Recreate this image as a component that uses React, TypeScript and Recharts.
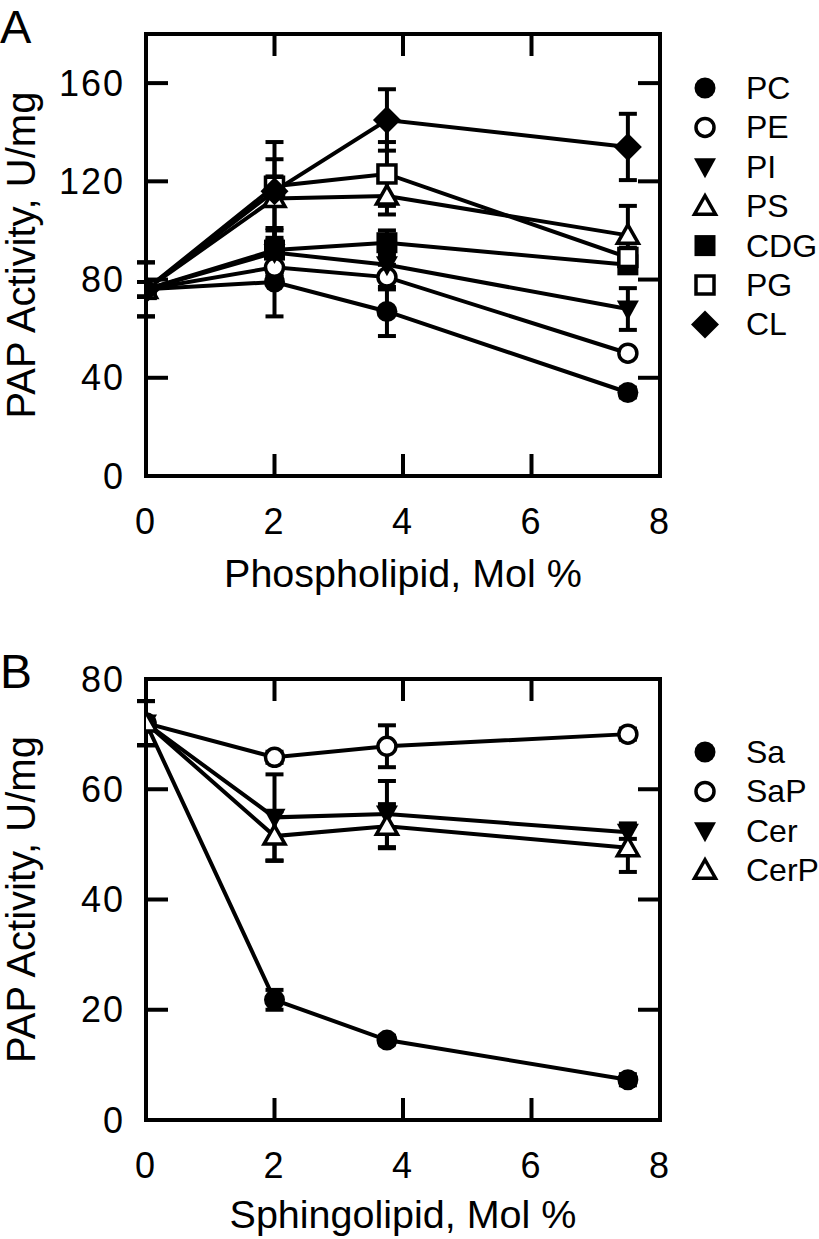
import React from 'react';
import { LineChart, Line, XAxis, YAxis, ErrorBar, Legend } from 'recharts';

const FONT = '"Liberation Sans", Arial, Helvetica, sans-serif';

// lipid content (mol %) shared by both panels
const molPercent = [0, 2, 3.75, 7.5];

// panel A: phospholipids (U/mg) and their SD
const pcActivity = [76, 79, 67, 34];
const pcError = [11, 14, 10, 2];
const peActivity = [76, 85, 81, 50];
const peError = [3, 4, 5, 1.5];
const piActivity = [76, 91, 86, 68];
const piError = [3, 9, 6, 8.5];
const psActivity = [76, 113, 114, 98];
const psError = [3, 16, 7.5, 12];
const cdgActivity = [76, 92, 95, 86];
const cdgError = [3, 9, 5, 3];
const pgActivity = [76, 118, 123, 89];
const pgError = [3, 4, 13, 4];
const clActivity = [76, 116, 145, 134];
const clError = [11, 20, 12.5, 13.5];

// panel B: sphingolipids
const saActivity = [72, 21.8, 14.5, 7.3];
const saError = [4, 1.8, 0.8, 1];
const sapActivity = [72, 65.8, 67.8, 70];
const sapError = [4, 1, 3.8, 1];
const cerActivity = [72, 54.9, 55.5, 52.2];
const cerError = [4, 7.8, 6, 1.2];
const cerpActivity = [72, 51.5, 53.3, 49.4];
const cerpError = [4, 4.5, 4, 4.4];

const xTicks = [0, 2, 4, 6, 8];
const innerXTicks = [2, 4, 6];
const phosphoTicks = [0, 40, 80, 120, 160];
const phosphoRightTicks = [40, 80, 120, 160];
const sphingoTicks = [0, 20, 40, 60, 80];
const sphingoRightTicks = [20, 40, 60];

type MarkerKind = 'circle' | 'circleOpen' | 'triDown' | 'triUpOpen' | 'square' | 'squareOpen' | 'diamond';

interface SeriesDef {
  name: string;
  kind: MarkerKind;
  values: number[];
  errors: number[];
}

const phosphoSeries: SeriesDef[] = [
  { name: 'PC', kind: 'circle', values: pcActivity, errors: pcError },
  { name: 'PE', kind: 'circleOpen', values: peActivity, errors: peError },
  { name: 'PI', kind: 'triDown', values: piActivity, errors: piError },
  { name: 'PS', kind: 'triUpOpen', values: psActivity, errors: psError },
  { name: 'CDG', kind: 'square', values: cdgActivity, errors: cdgError },
  { name: 'PG', kind: 'squareOpen', values: pgActivity, errors: pgError },
  { name: 'CL', kind: 'diamond', values: clActivity, errors: clError },
];

const sphingoSeries: SeriesDef[] = [
  { name: 'Sa', kind: 'circle', values: saActivity, errors: saError },
  { name: 'SaP', kind: 'circleOpen', values: sapActivity, errors: sapError },
  { name: 'Cer', kind: 'triDown', values: cerActivity, errors: cerError },
  { name: 'CerP', kind: 'triUpOpen', values: cerpActivity, errors: cerpError },
];

const buildRows = (series: SeriesDef[]) =>
  molPercent.map((x, i) => {
    const row: Record<string, number> = { x };
    series.forEach((s) => {
      row[s.name] = s.values[i];
      row[s.name + '_err'] = s.errors[i];
    });
    return row;
  });

const SW = 4;

const Marker = ({ kind, cx, cy }: { kind: MarkerKind; cx: number; cy: number }) => {
  switch (kind) {
    case 'circle':
      return <circle cx={cx} cy={cy} r={10.5} fill="#000" />;
    case 'circleOpen':
      return <circle cx={cx} cy={cy} r={9} fill="#fff" stroke="#000" strokeWidth={3.5} />;
    case 'triDown':
      return <polygon points={`${cx - 11},${cy - 8.5} ${cx + 11},${cy - 8.5} ${cx},${cy + 11.5}`} fill="#000" />;
    case 'triUpOpen':
      return (
        <polygon
          points={`${cx - 10.5},${cy + 8} ${cx + 10.5},${cy + 8} ${cx},${cy - 10.5}`}
          fill="#fff"
          stroke="#000"
          strokeWidth={3.5}
        />
      );
    case 'square':
      return <rect x={cx - 10.5} y={cy - 10.5} width={21} height={21} fill="#000" />;
    case 'squareOpen':
      return <rect x={cx - 9} y={cy - 9} width={18} height={18} fill="#fff" stroke="#000" strokeWidth={3.5} />;
    case 'diamond':
      return <polygon points={`${cx},${cy - 14} ${cx + 14},${cy} ${cx},${cy + 14} ${cx - 14},${cy}`} fill="#000" />;
    default:
      return null;
  }
};

const TICK_LEN = 22;
const tickText = { fontSize: 36, fontFamily: FONT, fill: '#000', letterSpacing: 2 };

const BottomTick = (props: any) => {
  const { x, y, payload } = props;
  return (
    <g>
      <line x1={x} y1={y} x2={x} y2={y - TICK_LEN} stroke="#000" strokeWidth={SW} />
      <text x={x} y={y + 58} textAnchor="middle" {...tickText}>
        {payload.value}
      </text>
    </g>
  );
};

const LeftTick = (props: any) => {
  const { x, y, payload } = props;
  return (
    <g>
      <line x1={x} y1={y} x2={x + TICK_LEN} y2={y} stroke="#000" strokeWidth={SW} />
      <text x={x - 21} y={y} textAnchor="end" dominantBaseline="central" {...tickText}>
        {payload.value}
      </text>
    </g>
  );
};

const TopTick = (props: any) => {
  const { x, y } = props;
  return <line x1={x} y1={y} x2={x} y2={y + TICK_LEN} stroke="#000" strokeWidth={SW} />;
};

const RightTick = (props: any) => {
  const { x, y } = props;
  return <line x1={x} y1={y} x2={x - TICK_LEN} y2={y} stroke="#000" strokeWidth={SW} />;
};

const LegendBox = ({ series }: { series: SeriesDef[] }) => (
  <svg width={129} height={series.length * 40 + 20}>
    {series.map((s, i) => (
      <g key={s.name}>
        <Marker kind={s.kind} cx={15} cy={20 + i * 39.4} />
        <text x={56} y={20 + i * 39.4} dominantBaseline="central" fontSize={32} fontFamily={FONT} fill="#000">
          {s.name}
        </text>
      </g>
    ))}
  </svg>
);

const axisLineStyle = { stroke: '#000', strokeWidth: SW, strokeLinecap: 'square' as const };

interface PanelProps {
  series: SeriesDef[];
  height: number;
  marginTop: number;
  xAxisHeight: number;
  xLabel: string;
  xLabelOffset: number;
  yMax: number;
  yTicks: number[];
  rightTicks: number[];
  legendTop: number;
}

const Panel: React.FC<PanelProps> = ({
  series,
  height,
  marginTop,
  xAxisHeight,
  xLabel,
  xLabelOffset,
  yMax,
  yTicks,
  rightTicks,
  legendTop,
}) => {
  const rows = buildRows(series);
  // the mirrored top/right axes take 1px each, so the margins shrink by 1
  return (
    <LineChart width={819} height={height} data={rows} margin={{ top: marginTop - 1, right: 158, bottom: 0, left: 0 }}>
      <XAxis
        dataKey="x"
        type="number"
        domain={[0, 8]}
        ticks={xTicks}
        interval={0}
        height={xAxisHeight}
        tickSize={0}
        tickMargin={0}
        tickLine={false}
        axisLine={axisLineStyle}
        tick={<BottomTick />}
        allowDataOverflow
        label={{
          value: xLabel,
          position: 'insideBottom',
          offset: xLabelOffset,
          style: { fontSize: 39.5, fontFamily: FONT, fill: '#000' },
        }}
      />
      <XAxis
        xAxisId="top"
        dataKey="x"
        orientation="top"
        type="number"
        domain={[0, 8]}
        ticks={innerXTicks}
        interval={0}
        height={1}
        tickSize={0}
        tickMargin={0}
        tickLine={false}
        axisLine={axisLineStyle}
        tick={<TopTick />}
        allowDataOverflow
      />
      <YAxis
        type="number"
        domain={[0, yMax]}
        ticks={yTicks}
        interval={0}
        width={146}
        tickSize={0}
        tickMargin={0}
        tickLine={false}
        axisLine={axisLineStyle}
        tick={<LeftTick />}
        allowDataOverflow
        label={{
          value: 'PAP Activity, U/mg',
          angle: -90,
          position: 'insideLeft',
          offset: 21,
          style: { fontSize: 40, fontFamily: FONT, fill: '#000', textAnchor: 'middle' },
        }}
      />
      <YAxis
        yAxisId="right"
        orientation="right"
        type="number"
        domain={[0, yMax]}
        ticks={rightTicks}
        interval={0}
        width={1}
        tickSize={0}
        tickMargin={0}
        tickLine={false}
        axisLine={axisLineStyle}
        tick={<RightTick />}
        allowDataOverflow
      />
      <Legend
        layout="horizontal"
        verticalAlign="middle"
        align="center"
        wrapperStyle={{ left: 690, top: legendTop, width: 129 }}
        content={() => <LegendBox series={series} />}
      />
      {/* invisible series bound to the mirrored top/right frame axes */}
      <Line
        xAxisId="top"
        yAxisId="right"
        dataKey={series[0].name}
        stroke="none"
        dot={false}
        activeDot={false}
        legendType="none"
        isAnimationActive={false}
      />
      {series.map((s) => (
        <Line
          key={s.name}
          type="linear"
          dataKey={s.name}
          stroke="#000"
          strokeWidth={SW}
          isAnimationActive={false}
          activeDot={false}
          dot={(p: any) => <Marker key={`${s.name}-${p.index}`} kind={s.kind} cx={p.cx} cy={p.cy} />}
        >
          <ErrorBar dataKey={s.name + '_err'} direction="y" width={9} stroke="#000" strokeWidth={SW} />
        </Line>
      ))}
    </LineChart>
  );
};

export default function App() {
  return (
    <div style={{ position: 'absolute', left: 0, top: 0, width: 819, height: 1239, background: '#fff', fontFamily: FONT }}>
      <div style={{ position: 'absolute', left: 0, top: 0 }}>
        <Panel
          series={phosphoSeries}
          height={610}
          marginTop={34}
          xAxisHeight={134}
          xLabel="Phospholipid, Mol %"
          xLabelOffset={23}
          yMax={180}
          yTicks={phosphoTicks}
          rightTicks={phosphoRightTicks}
          legendTop={68}
        />
      </div>
      <div style={{ position: 'absolute', left: 0, top: 620 }}>
        <Panel
          series={sphingoSeries}
          height={619}
          marginTop={59}
          xAxisHeight={119}
          xLabel="Sphingolipid, Mol %"
          xLabelOffset={11}
          yMax={80}
          yTicks={sphingoTicks}
          rightTicks={sphingoRightTicks}
          legendTop={112}
        />
      </div>
      <svg style={{ position: 'absolute', left: 0, top: 0 }} width={60} height={700}>
        <text x={0} y={43} fontSize={47} fontFamily={FONT} fill="#000">A</text>
        <text x={0} y={688} fontSize={48} fontFamily={FONT} fill="#000">B</text>
      </svg>
    </div>
  );
}
